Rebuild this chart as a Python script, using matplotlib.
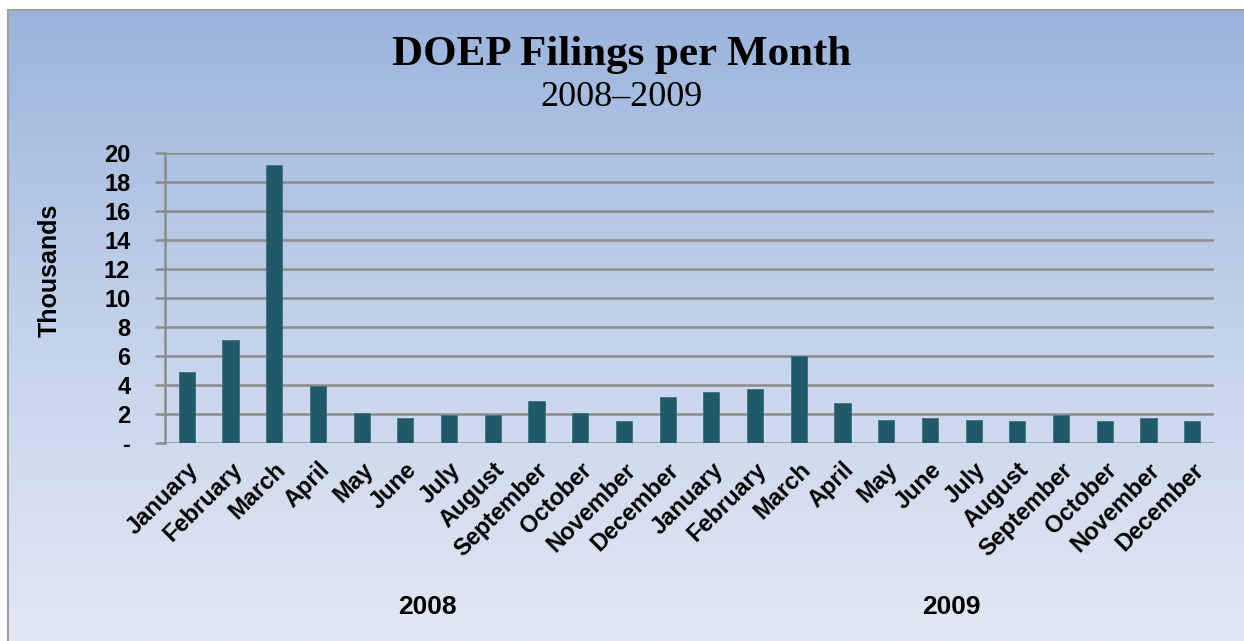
import numpy as np
import matplotlib.pyplot as plt
from matplotlib.colors import LinearSegmentedColormap

months = ['January', 'February', 'March', 'April', 'May', 'June', 'July',
          'August', 'September', 'October', 'November', 'December']
years = ['2008', '2009']
filings_2008 = [4.9, 7.1, 19.2, 3.9, 2.05, 1.75, 1.95, 1.95, 2.9, 2.05, 1.5, 3.2]
filings_2009 = [3.5, 3.75, 6.0, 2.75, 1.6, 1.75, 1.6, 1.5, 1.95, 1.5, 1.75, 1.5]
yticks = [0, 2, 4, 6, 8, 10, 12, 14, 16, 18, 20]
ytick_labels = ['-'] + [str(v) for v in yticks[1:]]

labels = months + months
values = filings_2008 + filings_2009
x = np.arange(len(values))

W, H = 1244, 641
fig = plt.figure(figsize=(W / 100, H / 100), dpi=100, facecolor='white')

# gradient panel behind the chart
bg = fig.add_axes([8 / W, 0, 1 - 8 / W, 1 - 10 / H])
cmap = LinearSegmentedColormap.from_list('bg', ['#9bb3dc', '#c3d2ea', '#e2e8f3'])
bg.imshow(np.linspace(0, 1, 256).reshape(-1, 1), aspect='auto', cmap=cmap,
          extent=[0, 1, 0, 1], origin='upper')
bg.set_xticks([])
bg.set_yticks([])
for side in ['right', 'bottom']:
    bg.spines[side].set_visible(False)
for side in ['left', 'top']:
    bg.spines[side].set_color('#a0a0a0')
    bg.spines[side].set_linewidth(1.5)

ax = fig.add_axes([165 / W, 1 - 443 / H, (1214 - 165) / W, (443 - 153) / H])
ax.patch.set_alpha(0)
ax.bar(x, values, width=0.37, color='#215968', edgecolor='#3b7383', linewidth=0.6,
       zorder=3)
ax.set_xlim(-0.5, len(values) - 0.5)
ax.set_ylim(0, 20)
ax.set_yticks(yticks)
ax.set_yticklabels(ytick_labels, fontsize=17, fontweight='bold',
                   family='Liberation Sans')
ax.grid(axis='y', color='#8c8c8c', linewidth=1.8, zorder=1)
ax.set_xticks(x)
ax.set_xticklabels(labels, rotation=45, ha='right', va='top', rotation_mode='anchor',
                   fontsize=17, fontweight='bold', family='Liberation Sans')
ax.tick_params(axis='x', length=0, pad=11)
ax.tick_params(axis='y', length=7, color='#8c8c8c', width=1.8, pad=18)
for side in ['top', 'right', 'bottom']:
    ax.spines[side].set_visible(False)
ax.spines['left'].set_color('#8c8c8c')
ax.spines['left'].set_linewidth(1.8)
ax.set_ylabel('Thousands', fontsize=18, fontweight='bold', family='Liberation Sans')
ax.yaxis.set_label_coords(-0.098, 0.597)

# year group labels under the month labels
for i, yr in enumerate(years):
    ax.text(5.5 + 12 * i, -11.3, yr, ha='center', va='center', fontsize=19,
            fontweight='bold', family='Liberation Sans')

fig.text(0.5, 1 - 55 / H, 'DOEP Filings per Month', ha='center', va='center',
         fontsize=31, fontweight='bold', family='Liberation Serif')
fig.text(0.5, 1 - 97 / H, '2008\u20132009', ha='center', va='center',
         fontsize=26, family='Liberation Serif')

fig.savefig('out.png', dpi=100, facecolor='white')
